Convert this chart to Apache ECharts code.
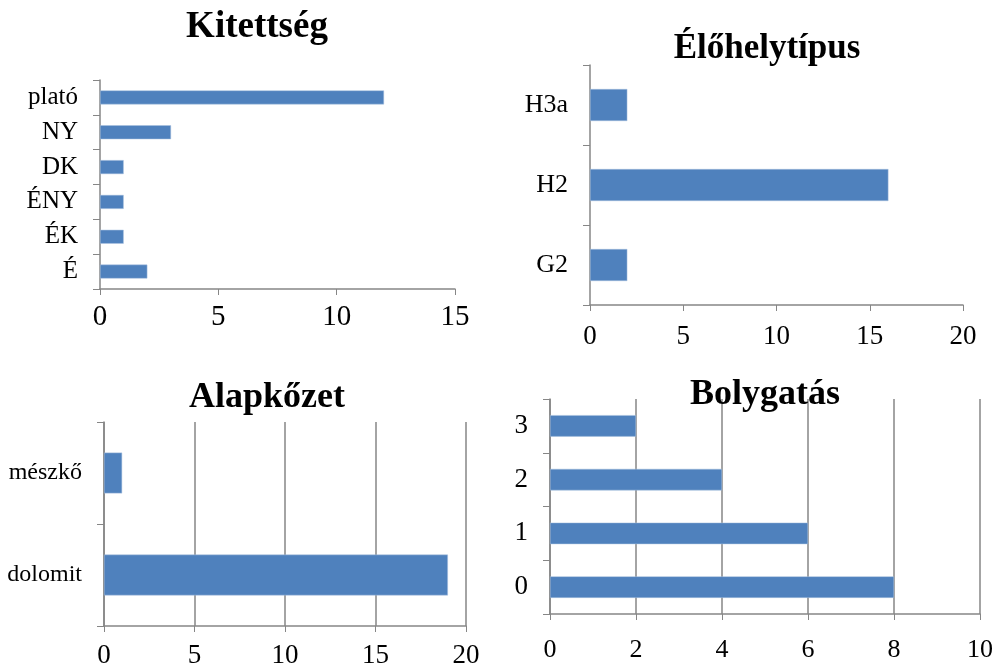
<!DOCTYPE html>
<html>
<head>
<meta charset="utf-8">
<title>Kitettség, Élőhelytípus, Alapkőzet, Bolygatás</title>
<script src="https://cdn.jsdelivr.net/npm/echarts@6/dist/echarts.min.js"></script>
<style>
  html, body { margin: 0; padding: 0; background: #fff; }
  #chart { width: 996px; height: 669px; }
</style>
</head>
<body>
<div id="chart"></div>
<script>
// adatok
const kitettsegCats = ['É', 'ÉK', 'ÉNY', 'DK', 'NY', 'plató'];
const kitettsegVals = [2, 1, 1, 1, 3, 12];

const elohelyCats = ['G2', 'H2', 'H3a'];
const elohelyVals = [2, 16, 2];

const alapkozetCats = ['dolomit', 'mészkő'];
const alapkozetVals = [19, 1];

const bolygatasCats = ['0', '1', '2', '3'];
const bolygatasVals = [8, 6, 4, 2];

const titles = ['Kitettség', 'Élőhelytípus', 'Alapkőzet', 'Bolygatás'];

const FONT = 'Liberation Serif';
const AXIS_GREY = '#868686';
const BAR_BLUE = '#4F81BD';

const panels = [
  { cats: kitettsegCats, vals: kitettsegVals, max: 15, interval: 5, grid: { left: 100, top: 80, width: 355, height: 209 }, split: false, xFont: 29, yFont: 25, xMargin: 14, title: { left: 252, top: 4, size: 37 } },
  { cats: elohelyCats, vals: elohelyVals, max: 20, interval: 5, grid: { left: 590, top: 65, width: 373, height: 240 }, split: false, xFont: 27, yFont: 26, xMargin: 18, title: { left: 762, top: 26, size: 35 } },
  { cats: alapkozetCats, vals: alapkozetVals, max: 20, interval: 5, grid: { left: 104, top: 422, width: 362, height: 204 }, split: true, xFont: 27, yFont: 24, xMargin: 16, title: { left: 262, top: 375, size: 36 } },
  { cats: bolygatasCats, vals: bolygatasVals, max: 10, interval: 2, grid: { left: 550, top: 399, width: 430, height: 215 }, split: true, xFont: 26, yFont: 27, xMargin: 23, title: { left: 760, top: 372, size: 36 } }
];

const myChart = echarts.init(document.getElementById('chart'));

myChart.setOption({
  animation: false,
  title: panels.map((p, i) => ({
    text: titles[i],
    left: p.title.left,
    top: p.title.top,
    textAlign: 'center',
    textStyle: {
      fontFamily: FONT,
      fontWeight: 'bold',
      fontSize: p.title.size,
      color: '#000'
    }
  })),
  grid: panels.map(p => Object.assign({ containLabel: false }, p.grid)),
  xAxis: panels.map((p, i) => ({
    type: 'value',
    gridIndex: i,
    min: 0,
    max: p.max,
    interval: p.interval,
    axisLine: { show: true, lineStyle: { color: AXIS_GREY, width: 1.5 } },
    axisTick: { show: true, length: 6, lineStyle: { color: AXIS_GREY } },
    axisLabel: {
      color: '#000',
      fontFamily: FONT,
      fontSize: p.xFont,
      margin: p.xMargin
    },
    splitLine: { show: p.split, lineStyle: { color: AXIS_GREY, width: 1.5 } }
  })),
  yAxis: panels.map((p, i) => ({
    type: 'category',
    gridIndex: i,
    data: p.cats,
    axisLine: { show: true, lineStyle: { color: AXIS_GREY, width: 1.5 } },
    axisTick: { show: true, length: 7, lineStyle: { color: AXIS_GREY } },
    axisLabel: {
      color: '#000',
      fontFamily: FONT,
      fontSize: p.yFont,
      margin: 22
    },
    splitLine: { show: false }
  })),
  series: panels.map((p, i) => ({
    type: 'bar',
    xAxisIndex: i,
    yAxisIndex: i,
    data: p.vals,
    barWidth: '40%',
    itemStyle: {
      color: BAR_BLUE,
      borderColor: '#a9c1df',
      borderWidth: 0.5
    }
  }))
});
</script>
</body>
</html>
